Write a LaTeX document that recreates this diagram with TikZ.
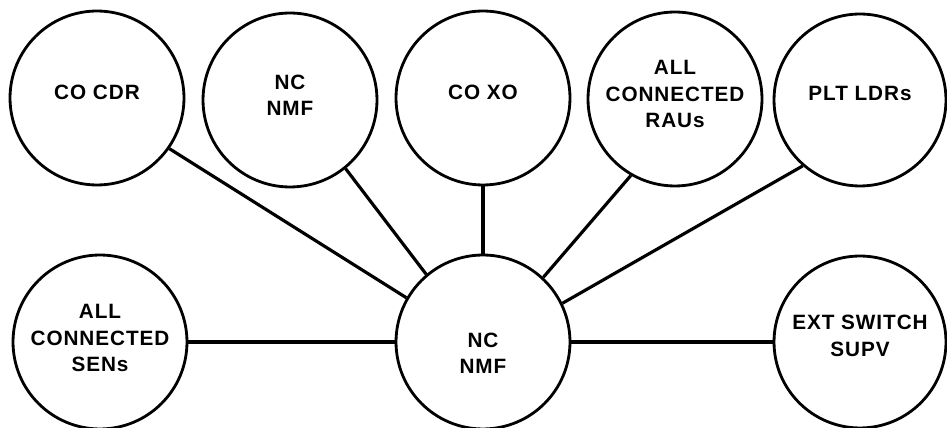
\documentclass[tikz,border=0pt]{standalone}
\usepackage{fontspec}
\newfontfamily\lblfont{Liberation Sans}[LetterSpace=4.5]
\begin{document}
\begin{tikzpicture}[x=0.02cm, y=-0.02cm,
    unit/.style={circle, draw=black, line width=1.6pt, minimum size=3.48cm, inner sep=0pt},
    txt/.style={align=center, inner sep=0pt, font=\lblfont\bfseries\fontsize{11.8}{15}\selectfont},
    link/.style={line width=1.8pt}]
  % canvas
  \fill[white] (0,0) rectangle (947,428);
  \useasboundingbox (0,0) rectangle (947,428);

  % upper row
  \node[unit, label={[txt, yshift=0.12cm]center:CO CDR}] (cdr) at (97,98) {};
  \node[unit, label={[txt, yshift=0.10cm]center:NC\\NMF}] (nmf) at (290,100) {};
  \node[unit, label={[txt, yshift=0.12cm]center:CO XO}] (coxo) at (483,98) {};
  \node[unit, label={[txt, yshift=0.10cm]center:ALL\\CONNECTED\\RAUs}] (rau) at (675,99) {};
  \node[unit, minimum size=3.44cm, label={[txt, yshift=0.14cm]center:PLT LDRs}] (plt) at (860,100) {};

  % lower row
  \node[unit, label={[txt, yshift=0.08cm]center:ALL\\CONNECTED\\SENs}] (sen) at (100,342) {};
  \node[unit, label={[txt, yshift=-0.22cm]center:NC\\NMF}] (nc) at (483,342) {};
  \node[unit, minimum size=3.44cm, label={[txt, yshift=0.12cm]center:EXT SWITCH\\SUPV}] (ext) at (860,342) {};

  % connectors to the hub
  \draw[link] (cdr.-35) -- (nc.150);
  \draw[link] (nmf.-51) -- (nc.130);
  \draw[link] (coxo.-90) -- (nc.90);
  \draw[link] (rau.-120) -- (nc.47);
  \draw[link] (plt.-131) -- (nc.26);
  \draw[link] (sen.0) -- (nc.180);
  \draw[link] (nc.0) -- (ext.180);
\end{tikzpicture}
\end{document}
